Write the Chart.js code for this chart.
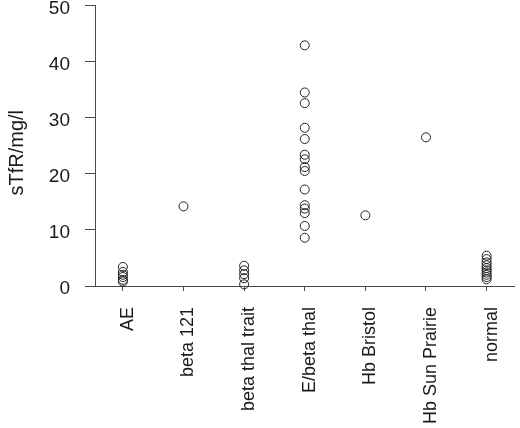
<!DOCTYPE html>
<html>
<head>
<meta charset="utf-8">
<script src="https://cdn.jsdelivr.net/npm/chart.js@4"></script>
<style>
  html, body { margin: 0; padding: 0; background: #ffffff; }
  #wrap { width: 520px; height: 428px; position: relative; }
</style>
</head>
<body>
<div id="wrap"><canvas id="c" width="520" height="428"></canvas></div>
<script>
// Categories (x axis)
const categories = ["AE", "beta 121", "beta thal trait", "E/beta thal", "Hb Bristol", "Hb Sun Prairie", "normal"];

// Values (sTfR, mg/l), one array per category
const aeValues = [3.4, 2.5, 2.0, 1.6, 1.1, 0.8];
const beta121Values = [14.2];
const betaThalTraitValues = [3.6, 2.8, 2.1, 1.4, 0.3];
const eBetaThalValues = [42.9, 34.5, 32.6, 28.2, 26.2, 23.4, 22.6, 21.2, 20.5, 17.2, 14.4, 13.8, 13.0, 10.7, 8.6];
const hbBristolValues = [12.6];
const hbSunPrairieValues = [26.5];
const normalValues = [5.4, 4.8, 4.2, 3.7, 3.2, 2.8, 2.4, 2.0, 1.6, 1.2];

// Y axis
const yTicks = [0, 10, 20, 30, 40, 50];
const yTitle = "sTfR/mg/l";

const seriesByCategory = [aeValues, beta121Values, betaThalTraitValues, eBetaThalValues, hbBristolValues, hbSunPrairieValues, normalValues];

const points = [];
seriesByCategory.forEach((vals, i) => vals.forEach(v => points.push({ x: i, y: v })));

const FONT = "'Liberation Sans', Arial, Helvetica, sans-serif";
const AXIS = "#4a4a4a";
const TEXT = "#1a1a1a";

// Y axis title, drawn beside the y scale, slightly below the scale centre as in the reference
const yTitlePlugin = {
  id: "yTitle",
  afterDraw(chart) {
    const { ctx, chartArea } = chart;
    const y = chart.scales.y;
    ctx.save();
    ctx.font = "20px " + FONT;
    ctx.fillStyle = TEXT;
    ctx.textAlign = "center";
    ctx.textBaseline = "middle";
    ctx.translate(y.left + 17, (chartArea.top + chartArea.bottom) / 2 + 7);
    ctx.rotate(-Math.PI / 2);
    ctx.fillText(yTitle, 0, 0);
    ctx.restore();
  }
};

new Chart(document.getElementById("c"), {
  type: "scatter",
  data: {
    datasets: [{
      data: points,
      pointStyle: "circle",
      pointRadius: 4.5,
      pointHoverRadius: 4.5,
      borderWidth: 1,
      borderColor: "#222222",
      backgroundColor: "rgba(0,0,0,0)",
      clip: false
    }]
  },
  plugins: [yTitlePlugin],
  options: {
    responsive: false,
    animation: false,
    events: [],
    layout: { padding: { top: 5, right: 5, left: 0, bottom: 0 } },
    plugins: { legend: { display: false }, tooltip: { enabled: false } },
    scales: {
      x: {
        type: "linear",
        min: -0.46,
        max: 6.46,
        afterBuildTicks: (s) => { s.ticks = categories.map((_, i) => ({ value: i })); },
        afterFit: (s) => { s.height = 142; s.paddingLeft = 0; s.paddingRight = 0; },
        grid: { display: true, drawOnChartArea: false, drawTicks: true, tickLength: 5, color: AXIS, lineWidth: 1 },
        border: { display: true, color: AXIS, width: 1 },
        ticks: {
          autoSkip: false,
          minRotation: 90,
          maxRotation: 90,
          padding: 16,
          labelOffset: 5,
          color: TEXT,
          font: { family: FONT, size: 18 },
          callback: (v) => categories[Math.round(v)] ?? ""
        }
      },
      y: {
        min: 0,
        max: 50,
        afterBuildTicks: (s) => { s.ticks = yTicks.map(v => ({ value: v })); },
        afterFit: (s) => { s.width = 95; s.paddingTop = 0; s.paddingBottom = 0; },
        grid: { display: true, drawOnChartArea: false, drawTicks: true, tickLength: 10, color: AXIS, lineWidth: 1 },
        border: { display: true, color: AXIS, width: 1 },
        ticks: {
          padding: 15,
          labelOffset: 3,
          color: TEXT,
          font: { family: FONT, size: 19 }
        },
        title: { display: false }
      }
    }
  }
});
</script>
</body>
</html>
